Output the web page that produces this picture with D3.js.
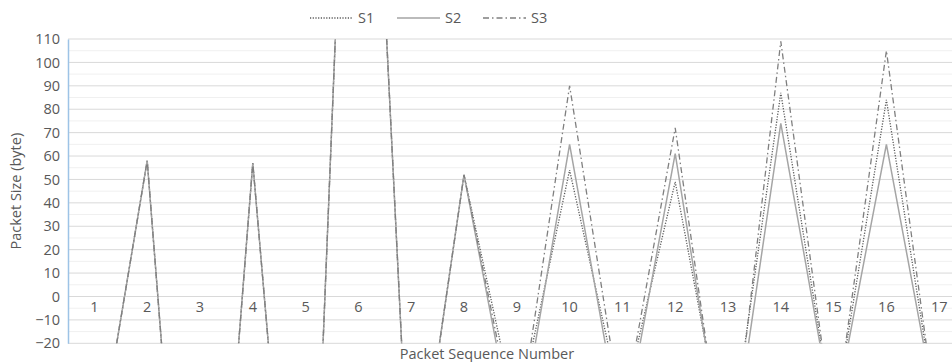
<!DOCTYPE html>
<html>
<head>
<meta charset="utf-8">
<script src="https://cdn.jsdelivr.net/npm/d3@7"></script>
<style>
  body { margin: 0; background: #fff; }
  svg { display: block; font-family: "Open Sans", "Liberation Sans", sans-serif; }
</style>
</head>
<body>
<svg id="chart" width="952" height="362"></svg>
<script>
const categories = [1, 2, 3, 4, 5, 6, 7, 8, 9, 10, 11, 12, 13, 14, 15, 16, 17];
const s1 = [-77, 58, -230, 57, -205, 355, -103, 52, -52, 54, -48, 49, -71, 87, -54, 84, -58];
const s2 = [-77, 58, -230, 57, -205, 355, -103, 52, -66, 65, -61, 61, -80, 74, -53, 65, -56];
const s3 = [-77, 58, -230, 57, -205, 355, -103, 52, -60, 90, -52, 72, -84, 109, -57, 105, -61];
const yTicks = [-20, -10, 0, 10, 20, 30, 40, 50, 60, 70, 80, 90, 100, 110];

const series = [
  { name: "S1", values: s1, color: "#595959", dash: "1.2,1.5", width: 1.3 },
  { name: "S2", values: s2, color: "#a5a5a5", dash: null, width: 1.5 },
  { name: "S3", values: s3, color: "#7f7f7f", dash: "6,3,1.5,3", width: 1.3 }
];

const fontSize = "14.5px";
const svg = d3.select("#chart");
const plotLeft = 68, plotTop = 39, plotBottom = 343.3;

const x = d3.scaleBand().domain(categories).range([plotLeft, plotLeft + 52.8 * categories.length]);
const y = d3.scaleLinear().domain([-20, 110]).range([plotBottom, plotTop]);

// minor gridlines
svg.append("g").selectAll("line")
  .data(d3.range(-15, 110, 10))
  .join("line")
  .attr("x1", plotLeft).attr("x2", 952)
  .attr("y1", d => y(d)).attr("y2", d => y(d))
  .attr("stroke", "#f0f0f0").attr("stroke-width", 1);

// major gridlines
svg.append("g").selectAll("line")
  .data(yTicks)
  .join("line")
  .attr("x1", plotLeft).attr("x2", 952)
  .attr("y1", d => y(d)).attr("y2", d => y(d))
  .attr("stroke", "#d9d9d9").attr("stroke-width", 1);

// y axis
const yAxis = svg.append("g")
  .attr("transform", `translate(${plotLeft},0)`)
  .call(d3.axisLeft(y).tickValues(yTicks).tickSize(0).tickPadding(8));
yAxis.select(".domain").attr("stroke", "#9dc3e6").attr("stroke-width", 1.5);
yAxis.selectAll("text").attr("fill", "#595959").style("font-size", fontSize)
  .style("font-family", "'Open Sans', sans-serif");

// x labels at zero line
svg.append("g").selectAll("text")
  .data(categories)
  .join("text")
  .attr("x", d => x(d) + x.bandwidth() / 2)
  .attr("y", y(0) + 15.5)
  .attr("text-anchor", "middle")
  .attr("fill", "#595959")
  .style("font-size", fontSize)
  .text(d => d);

// lines
svg.append("clipPath").attr("id", "plot-clip")
  .append("rect").attr("x", plotLeft).attr("y", plotTop)
  .attr("width", 952 - plotLeft).attr("height", plotBottom - plotTop);

const line = d3.line()
  .x((d, i) => x(categories[i]) + x.bandwidth() / 2)
  .y(d => y(d));

svg.append("g").attr("clip-path", "url(#plot-clip)")
  .selectAll("path")
  .data(series)
  .join("path")
  .attr("d", d => line(d.values))
  .attr("fill", "none")
  .attr("stroke", d => d.color)
  .attr("stroke-width", d => d.width)
  .attr("stroke-dasharray", d => d.dash);

// legend
const legendX = [310, 397, 483];
const legend = svg.append("g").selectAll("g")
  .data(series)
  .join("g")
  .attr("transform", (d, i) => `translate(${legendX[i]},18)`);
legend.append("line")
  .attr("x1", 0).attr("x2", 43).attr("y1", 0).attr("y2", 0)
  .attr("stroke", d => d.color)
  .attr("stroke-width", d => d.width)
  .attr("stroke-dasharray", d => d.dash);
legend.append("text")
  .attr("x", 48).attr("y", 5)
  .attr("fill", "#595959")
  .style("font-size", fontSize)
  .text(d => d.name);

// axis titles
svg.append("text")
  .attr("transform", `translate(21,${(plotTop + plotBottom) / 2}) rotate(-90)`)
  .attr("text-anchor", "middle")
  .attr("fill", "#595959")
  .style("font-size", fontSize)
  .text("Packet Size (byte)");

svg.append("text")
  .attr("x", 487).attr("y", 359)
  .attr("text-anchor", "middle")
  .attr("fill", "#595959")
  .style("font-size", fontSize)
  .text("Packet Sequence Number");
</script>
</body>
</html>
